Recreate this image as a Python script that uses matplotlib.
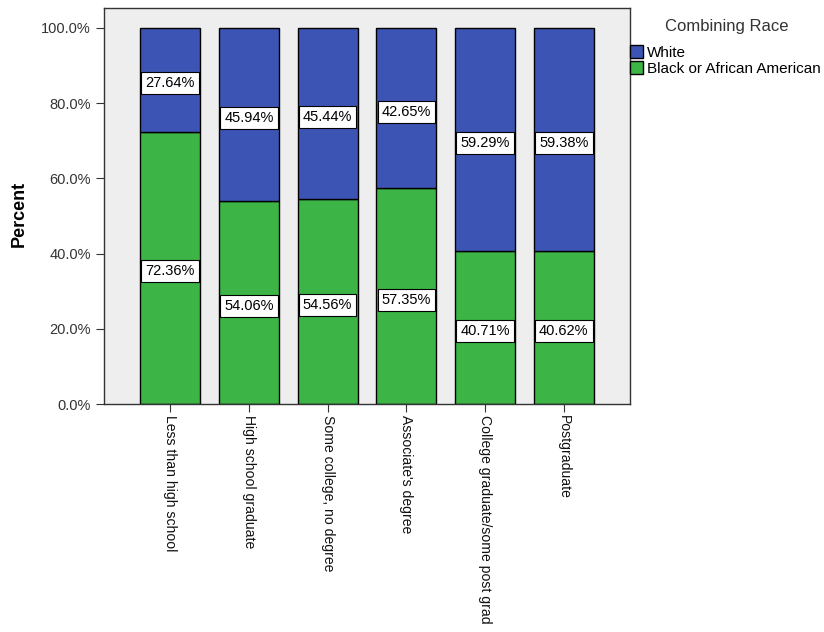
import matplotlib
matplotlib.use("Agg")
import matplotlib.pyplot as plt
import numpy as np

plt.rcParams['font.family'] = ['Liberation Sans', 'DejaVu Sans']

categories = ["Less than high school", "High school graduate", "Some college, no degree",
              "Associate's degree", "College graduate/some post grad", "Postgraduate"]
black_pct = [72.36, 54.06, 54.56, 57.35, 40.71, 40.62]
white_pct = [27.64, 45.94, 45.44, 42.65, 59.29, 59.38]
series_names = ["White", "Black or African American"]
yticks = [0, 20, 40, 60, 80, 100]

blue = "#3c55b4"
green = "#3cb446"

fig = plt.figure(figsize=(8.24, 6.32), dpi=100)
ax = fig.add_axes([104/824, 1-404/632, (630-104)/824, (404-8)/632])
ax.set_facecolor("#eeeeee")

x = np.arange(len(categories))
w = 0.76
b1 = ax.bar(x, black_pct, w, color=green, edgecolor="black", linewidth=1.0, label=series_names[1])
b2 = ax.bar(x, white_pct, w, bottom=black_pct, color=blue, edgecolor="black", linewidth=1.0, label=series_names[0])

bbox = dict(boxstyle="square,pad=0.28", facecolor="white", edgecolor="black", linewidth=0.8)
for i in range(len(categories)):
    ax.annotate(f"{black_pct[i]:.2f}%", xy=(x[i], black_pct[i] / 2), xytext=(0, -2.5),
                textcoords="offset points", ha="center", va="center", fontsize=10.5, bbox=bbox)
    ax.annotate(f"{white_pct[i]:.2f}%", xy=(x[i], black_pct[i] + white_pct[i] / 2), xytext=(0, -2.5),
                textcoords="offset points", ha="center", va="center", fontsize=10.5, bbox=bbox)

ax.set_xlim(-0.84, 5.84)
ax.set_ylim(0, 105.3)
ax.set_yticks(yticks)
ax.set_yticklabels([f"{v:.1f}%" for v in yticks], fontsize=10.5, color="#333333")
ax.set_xticks(x)
ax.set_xticklabels(categories, rotation=270, ha="center", va="top", fontsize=10.1, color="#111111")
ax.tick_params(axis="both", direction="out", length=6, color="#333333")
ax.tick_params(axis="x", pad=2)
for s in ax.spines.values():
    s.set_color("#333333")
    s.set_linewidth(1.0)

ax.set_ylabel("Percent", fontsize=13, fontweight="bold")
ax.yaxis.set_label_coords(-0.145, 0.48)

fig.text(727/824, 1-27/632, "Combining Race", ha="center", va="center", fontsize=12, color="#333333")
leg = fig.legend(handles=[b2, b1], labels=series_names, loc="upper left",
                 bbox_to_anchor=(630/824, 1-45/632), frameon=False, fontsize=11,
                 handlelength=0.85, handleheight=0.9, handletextpad=0.25,
                 labelspacing=0.1, borderaxespad=0, borderpad=0)

fig.savefig("out.png", dpi=100)
